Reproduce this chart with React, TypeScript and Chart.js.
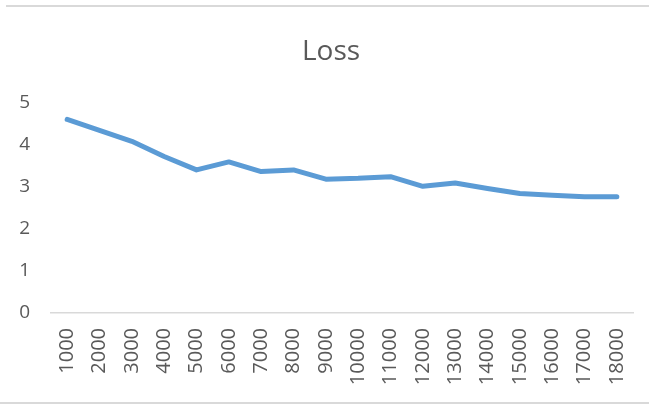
import React, { useEffect, useRef } from "react";
import { Chart, registerables } from "chart.js";

Chart.register(...registerables);

const steps: string[] = [
  "1000", "2000", "3000", "4000", "5000", "6000", "7000", "8000", "9000",
  "10000", "11000", "12000", "13000", "14000", "15000", "16000", "17000", "18000",
];

const lossValues: number[] = [
  4.6, 4.34, 4.08, 3.72, 3.4, 3.59, 3.36, 3.4, 3.18,
  3.2, 3.24, 3.01, 3.09, 2.96, 2.84, 2.8, 2.76, 2.76,
];

const yTicks: number[] = [0, 1, 2, 3, 4, 5];

const TEXT_COLOR = "#595959";
const FONT = "'Open Sans', sans-serif";

// thin grey rules framing the chart at the top and bottom
const frameRules = {
  id: "frameRules",
  beforeDraw(chart: Chart) {
    const { ctx, width } = chart;
    ctx.save();
    ctx.strokeStyle = "#d9d9d9";
    ctx.lineWidth = 2;
    ctx.beginPath();
    ctx.moveTo(6, 6);
    ctx.lineTo(width, 6);
    ctx.moveTo(0, 403);
    ctx.lineTo(width, 403);
    ctx.stroke();
    ctx.restore();
  },
};

export default function App() {
  const canvasRef = useRef<HTMLCanvasElement | null>(null);

  useEffect(() => {
    document.body.style.margin = "0";
    const canvas = canvasRef.current;
    if (!canvas) return;
    const chart = new Chart(canvas, {
      type: "line",
      data: {
        labels: steps,
        datasets: [
          {
            label: "Loss",
            data: lossValues,
            borderColor: "#5B9BD5",
            borderWidth: 5,
            borderCapStyle: "round",
            borderJoinStyle: "round",
            pointRadius: 0,
            tension: 0,
            fill: false,
          },
        ],
      },
      options: {
        animation: false,
        responsive: false,
        layout: { padding: { top: 35, right: 0, bottom: 0, left: 13 } },
        plugins: {
          legend: { display: false },
          tooltip: { enabled: false },
          title: {
            display: true,
            text: "Loss",
            color: TEXT_COLOR,
            font: { family: FONT, size: 28, weight: "normal" },
            padding: { top: 0, bottom: 34 },
          },
        },
        scales: {
          x: {
            offset: true,
            grid: { display: false, drawTicks: false },
            border: { display: true, color: "#d9d9d9", width: 1.5 },
            ticks: {
              color: TEXT_COLOR,
              font: { family: FONT, size: 20 },
              minRotation: 90,
              maxRotation: 90,
              autoSkip: false,
              padding: 15,
            },
            afterFit(scale: any) {
              scale.height = 92;
              scale.paddingLeft = 0;
              scale.paddingRight = 0;
            },
          },
          y: {
            min: 0,
            max: 5,
            afterBuildTicks(scale: any) {
              scale.ticks = yTicks.map((v) => ({ value: v }));
            },
            grid: { display: false, drawTicks: false },
            border: { display: false },
            ticks: {
              color: TEXT_COLOR,
              font: { family: FONT, size: 19 },
              padding: 21,
            },
            afterFit(scale: any) {
              scale.width = 38;
            },
          },
          // empty right-hand gutter so the plot ends short of the edge
          gutter: {
            type: "linear",
            position: "right",
            display: true,
            grid: { display: false, drawTicks: false },
            border: { display: false },
            ticks: { display: false },
            afterFit(scale: any) {
              scale.width = 16;
            },
          },
        },
      },
      plugins: [frameRules],
    });
    return () => chart.destroy();
  }, []);

  return (
    <div style={{ width: 649, height: 405 }}>
      <canvas ref={canvasRef} width={649} height={405} />
    </div>
  );
}
